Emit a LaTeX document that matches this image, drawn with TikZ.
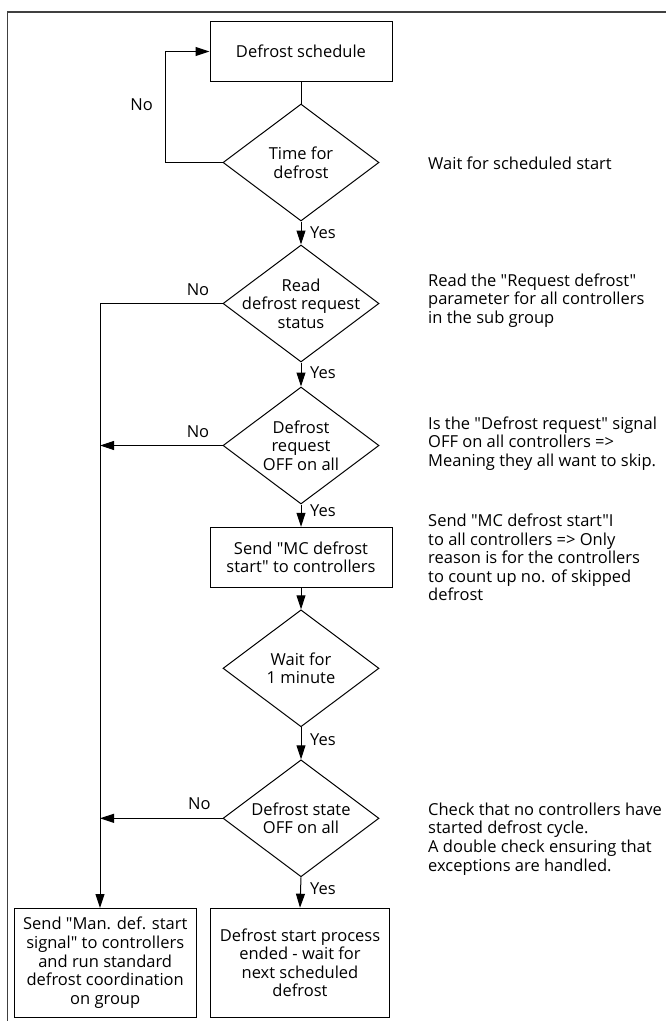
\documentclass[tikz,border=0pt]{standalone}
\usepackage{fontspec}
\setmainfont{Open Sans}[Ligatures=TeXOff]
\usetikzlibrary{shapes.geometric,arrows.meta}
\begin{document}
\begin{tikzpicture}[x=1pt,y=-1pt,
  every node/.style={font=\fontsize{16.5}{18.6}\selectfont},
  proc/.style={draw,line width=1pt,rectangle,inner sep=0pt,minimum width=182pt,minimum height=60pt},
  dia/.style={draw,line width=1pt,diamond,inner sep=0pt,minimum width=156pt,minimum height=117pt},
  ctext/.style={align=center,inner sep=0pt},
  lbl/.style={inner sep=0pt},
  note/.style={align=left,inner sep=0pt,anchor=west},
  conn/.style={line width=1pt},
  arr/.style={line width=1pt,-{Triangle[length=14pt,width=9pt]}},
  frame/.style={line width=1.8pt,black!75}]
\useasboundingbox (0,0) rectangle (666,1021);
\draw[frame] (7.5,1030) -- (7.5,12) -- (680,12);

% nodes
\node[proc] (sched) at (301,51.5) {Defrost schedule};
\node[dia] (d1) at (301,162.5) {};
\node[ctext] (d1t) at (d1) {Time for\\defrost};
\node[dia] (d2) at (301,303.5) {};
\node[ctext] (d2t) at (d2) {Read\\defrost request\\status};
\node[dia] (d3) at (301,445.5) {};
\node[ctext] (d3t) at (d3) {Defrost\\request\\OFF on all};
\node[proc] (send) at (301,557.3) {};
\node[ctext] (sendt) at (send) {Send "MC defrost\\start" to controllers};
\node[dia] (d5) at (301,668.3) {};
\node[ctext] (d5t) at (d5) {Wait for\\1 minute};
\node[dia] (d6) at (301,818.3) {};
\node[ctext] (d6t) at (d6) {Defrost state\\OFF on all};
\node[proc,minimum width=181.7pt,minimum height=109pt] (man) at (105.2,962.7) {};
\node[ctext] (mant) at (man) {Send "Man. def. start\\signal" to controllers\\and run standard\\defrost coordination\\on group};
\node[proc,minimum width=178.6pt,minimum height=109pt] (ended) at (300,962.7) {};
\node[ctext] (endedt) at (ended) {Defrost start process\\ended - wait for\\next scheduled\\defrost};

% coordinates
\coordinate (loopA) at (165,162.5);
\coordinate (loopB) at (165,51.5);
\coordinate (leftA) at (100,303.5);
\coordinate (leftB) at (100,908);
\coordinate (hit3) at (100,445.5);
\coordinate (hit6) at (100,818.3);

% connectors
\draw[conn] (sched.south) -- (d1.north);
\draw[arr] (d1.west) -- (loopA) -- (loopB) -- (sched.west);
\draw[arr] (d1.south) -- (d2.north);
\draw[arr] (d2.west) -- (leftA) -- (leftB);
\draw[arr] (d2.south) -- (d3.north);
\draw[arr] (d3.west) -- (hit3);
\draw[arr] (d3.south) -- (send.north);
\draw[arr] (send.south) -- (d5.north);
\draw[arr] (d5.south) -- (d6.north);
\draw[arr] (d6.west) -- (hit6);
\draw[arr] (d6.south) -- (ended.north);

% labels
\node[lbl] (no1) at (141.7,105) {No};
\node[lbl] (no2) at (198,290) {No};
\node[lbl] (no3) at (198,431.7) {No};
\node[lbl] (no6) at (199.3,803.3) {No};
\node[lbl,anchor=west] (yes1) at (310,233) {Yes};
\node[lbl,anchor=west] (yes2) at (310,373) {Yes};
\node[lbl,anchor=west] (yes3) at (310,510.7) {Yes};
\node[lbl,anchor=west] (yes5) at (310,739.3) {Yes};
\node[lbl,anchor=west] (yes6) at (310,888.3) {Yes};

% notes
\node[note] (n1) at (428,163) {Wait for scheduled start};
\node[note] (n2) at (428,300.3) {Read the "Request defrost"\\parameter for all controllers\\in the sub group};
\node[note] (n3) at (428,443.4) {Is the "Defrost request" signal\\OFF on all controllers =>\\Meaning they all want to skip.};
\node[note] (n4) at (428,557.5) {Send "MC defrost start"I\\to all controllers => Only\\reason is for the controllers\\to count up no. of skipped\\defrost};
\node[note] (n5) at (428,839) {Check that no controllers have\\started defrost cycle.\\A double check ensuring that\\exceptions are handled.};
\end{tikzpicture}
\end{document}
